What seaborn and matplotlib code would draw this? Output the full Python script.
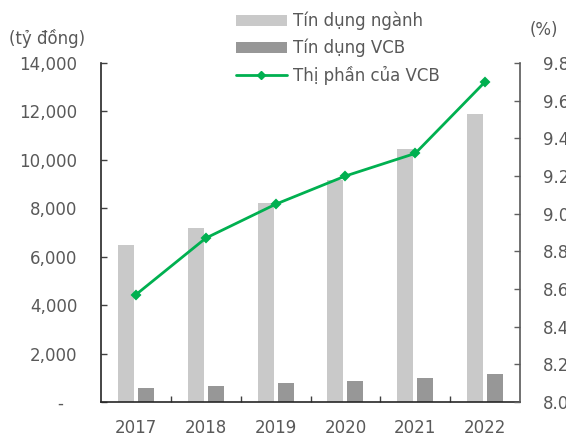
import matplotlib
matplotlib.use("Agg")
import matplotlib.pyplot as plt
import seaborn as sns
import pandas as pd
from matplotlib.patches import Patch
from matplotlib.lines import Line2D
from matplotlib.ticker import FixedLocator

years = ["2017", "2018", "2019", "2020", "2021", "2022"]
tin_dung_nganh = [6500, 7200, 8200, 9150, 10450, 11900]
tin_dung_vcb = [560, 660, 770, 870, 990, 1170]
thi_phan_vcb = [8.57, 8.87, 9.05, 9.20, 9.32, 9.70]

series_names = ["Tín dụng ngành", "Tín dụng VCB", "Thị phần của VCB"]
left_ticks = [0, 2000, 4000, 6000, 8000, 10000, 12000, 14000]
right_ticks = [8.0, 8.2, 8.4, 8.6, 8.8, 9.0, 9.2, 9.4, 9.6, 9.8]

LIGHT = "#C9C9C9"
DARK = "#979797"
GREEN = "#00B050"
TXT = "#595959"
FS = 12

sns.set_theme(style="white")
plt.rcParams["font.family"] = ["DejaVu Sans"]

df = pd.DataFrame({
    "year": years * 2,
    "value": tin_dung_nganh + tin_dung_vcb,
    "series": [series_names[0]] * len(years) + [series_names[1]] * len(years),
})

fig = plt.figure(figsize=(5.66, 4.36), dpi=100)
ax = fig.add_axes([101 / 566, 34 / 436, (520 - 101) / 566, (402 - 63) / 436])

sns.barplot(data=df, x="year", y="value", hue="series", order=years,
            hue_order=series_names[:2], palette=[LIGHT, DARK],
            width=0.572, gap=0.2, linewidth=0, ax=ax, legend=False)

ax2 = ax.twinx()
sns.pointplot(x=years, y=thi_phan_vcb, order=years, color=GREEN, markers="D",
              linestyles="-", markersize=4.5, linewidth=2, errorbar=None, ax=ax2)

ax.set_xlim(-0.5, 5.5)
ax.set_ylim(0, 14000)
ax2.set_ylim(8.0, 9.8)
ax.set_xlabel("")
ax.set_ylabel("")
ax2.set_ylabel("")

ax.set_yticks(left_ticks)
ax.set_yticklabels(["-  \u2009"] + [f"{v:,}" for v in left_ticks[1:]])
ax2.set_yticks(right_ticks)
ax2.set_yticklabels([f"{v:.1f}" for v in right_ticks])

ax.xaxis.set_minor_locator(FixedLocator([0.5, 1.5, 2.5, 3.5, 4.5]))
ax.tick_params(axis="x", which="major", length=0, pad=12, labelsize=FS, labelcolor=TXT)
ax.tick_params(axis="x", which="minor", direction="in", length=4, width=1, color="#404040", bottom=True)
ax.tick_params(axis="y", direction="in", length=4, width=1, color="#404040", pad=17, labelsize=FS, labelcolor=TXT, left=True)
ax2.tick_params(axis="y", direction="in", length=4, width=1, color="#606060", labelsize=FS, labelcolor=TXT,
                right=True, labelright=True, left=False, labelleft=False)
for t in ax2.yaxis.get_major_ticks():
    t.set_pad(16.5)

for a in (ax, ax2):
    a.spines["top"].set_visible(False)
    a.grid(False)
ax.spines["left"].set_color("#262626")
ax.spines["bottom"].set_color("#262626")
ax.spines["right"].set_visible(False)
ax2.spines["left"].set_visible(False)
ax2.spines["bottom"].set_visible(False)
ax2.spines["right"].set_color("#595959")
for s in ("left", "bottom"):
    ax.spines[s].set_linewidth(1.2)
ax2.spines["right"].set_linewidth(1.2)

fig.text(9 / 566, 1 - 38 / 436, "(tỷ đồng)", ha="left", va="center", fontsize=FS, color=TXT)
fig.text(530 / 566, 1 - 30 / 436, "(%)", ha="left", va="center", fontsize=FS, color=TXT)

handles = [
    Patch(facecolor=LIGHT, edgecolor="none"),
    Patch(facecolor=DARK, edgecolor="none"),
    Line2D([0], [0], color=GREEN, lw=2, marker="D", markersize=4.5),
]
fig.legend(handles, series_names, loc="upper left", bbox_to_anchor=(236 / 566, 1 - 12 / 436),
           frameon=False, fontsize=FS, labelcolor=TXT, handlelength=3.05, handleheight=0.6,
           handletextpad=0.36, labelspacing=0.5, borderpad=0, borderaxespad=0)

fig.savefig("out.png", dpi=100)
